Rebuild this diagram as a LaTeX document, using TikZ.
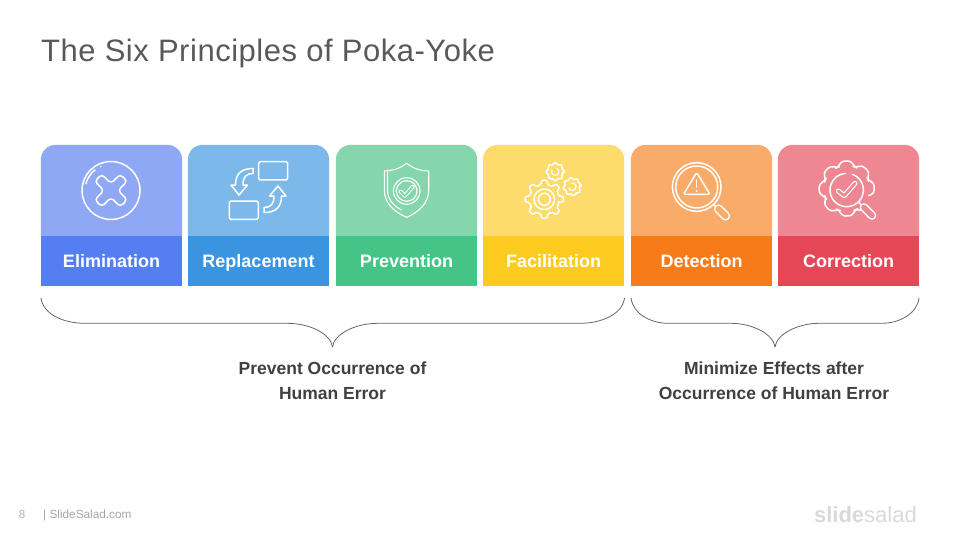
\documentclass[tikz,border=0pt]{standalone}
\usepackage{fontspec}
\setmainfont{Liberation Sans}
\usetikzlibrary{positioning}

\definecolor{elimtop}{HTML}{8FA8F5}
\definecolor{elimband}{HTML}{567EF3}
\definecolor{repltop}{HTML}{7DB8EA}
\definecolor{replband}{HTML}{3B94E0}
\definecolor{prevtop}{HTML}{85D6AC}
\definecolor{prevband}{HTML}{44C486}
\definecolor{factop}{HTML}{FEDB6D}
\definecolor{facband}{HTML}{FDCB20}
\definecolor{dettop}{HTML}{F9AB6A}
\definecolor{detband}{HTML}{F77C19}
\definecolor{cortop}{HTML}{EE8791}
\definecolor{corband}{HTML}{E54757}

% the light upper part of a card, sitting on its band node
\newcommand{\cardtop}[2]{\fill[#2] (#1.north west) [rounded corners=15pt] -- ([yshift=91pt]#1.north west) -- ([yshift=91pt]#1.north east) [sharp corners] -- (#1.north east) -- cycle;}
% cog outline: x, y, outer radius, root radius, teeth, turn
\newcommand{\cogline}[6]{\draw[icon,rounded corners=1.2pt,shift={(#1,#2)}] ({#6-0.3*360/#5}:#4pt) foreach \i in {1,...,#5} { -- ({#6+(\i-1.17)*360/#5}:#3pt) -- ({#6+(\i-0.83)*360/#5}:#3pt) -- ({#6+(\i-0.7)*360/#5}:#4pt) -- ({#6+(\i-0.3)*360/#5}:#4pt)} -- cycle;}

\begin{document}
\begin{tikzpicture}[x=1pt,y=-1pt,
	band_node/.style={rectangle,inner sep=0pt,minimum width=141pt,minimum height=50pt,text height=16.5pt,text depth=3.5pt,text=white,font=\fontsize{18}{20}\selectfont\bfseries},
	group_node/.style={align=center,inner sep=0pt,text=black!75,font=\fontsize{17.5}{25}\selectfont\bfseries},
	icon/.style={draw=white,line width=1.5pt,line join=round,line cap=round},
	brace/.style={draw=black!60,line width=0.8pt}]
	\useasboundingbox (0,0) rectangle (960,540);

	\node[anchor=west,inner sep=0pt,text=black!65,font=\fontsize{31}{36}\selectfont\addfontfeature{LetterSpace=1.7}] (title) at (41,53.5) {The Six Principles of Poka-Yoke};

	\node[band_node,fill=elimband] (elim) at (111.5,261) {Elimination};
	\node[band_node,fill=replband] (repl) at (258.5,261) {Replacement};
	\node[band_node,fill=prevband] (prev) at (406.5,261) {Prevention};
	\node[band_node,fill=facband] (fac) at (553.5,261) {Facilitation};
	\node[band_node,fill=detband] (det) at (701.5,261) {Detection};
	\node[band_node,fill=corband] (cor) at (848.5,261) {Correction};
	\cardtop{elim}{elimtop}
	\cardtop{repl}{repltop}
	\cardtop{prev}{prevtop}
	\cardtop{fac}{factop}
	\cardtop{det}{dettop}
	\cardtop{cor}{cortop}

	% elimination
	\draw[icon] (111,190.5) circle (29pt);
	\draw[icon,shift={(111,190.5)}] (165:26pt) arc[start angle=165,end angle=128,radius=26pt];
	\fill[white,shift={(111,190.5)}] (113:26pt) circle (0.8pt);
	\draw[icon,rounded corners=3.5pt,shift={(111,190.5)}] (0:7pt) -- (29.5:18.7pt) -- (60.5:18.7pt) -- (90:7pt) -- (119.5:18.7pt) -- (150.5:18.7pt) -- (180:7pt) -- (209.5:18.7pt) -- (240.5:18.7pt) -- (270:7pt) -- (299.5:18.7pt) -- (330.5:18.7pt) -- cycle;

	% replacement
	\draw[icon,rounded corners=1.5pt] (258.7,161.7) rectangle (287.7,180);
	\draw[icon,rounded corners=1.5pt] (229.3,201) rectangle (258.3,219.3);
	\draw[icon] (253,168.5) .. controls (241,168.5) and (235.5,174) .. (235.5,185) -- (231,185) -- (239,195) -- (247.5,185) -- (243,185) .. controls (243,177) and (246,173.5) .. (253,173.5) -- cycle;
	\draw[icon] (264,212.5) .. controls (276,212.5) and (281.5,207) .. (281.5,196) -- (286,196) -- (278,186) -- (269.5,196) -- (274,196) .. controls (274,204) and (271,207.5) .. (264,207.5) -- cycle;

	% prevention
	\draw[icon,line width=1.1pt] (406.7,163.3) .. controls (399,169) and (392,171) .. (384.3,171) -- (384.3,190) .. controls (384.3,203) and (394,212) .. (406.7,217.3) .. controls (419,212) and (428.7,203) .. (428.7,190) -- (428.7,171) .. controls (421,171) and (414,169) .. (406.7,163.3) -- cycle;
	\draw[icon,line width=1.1pt] (387.5,172.5) -- (387.5,190) .. controls (387.5,198) and (392,205) .. (401.5,210);
	\draw[icon,line width=1.1pt] (406.7,191) circle (13.3pt);
	\draw[icon,line width=1.1pt] (406.7,191) circle (10.3pt);
	\draw[icon,line width=1pt,double=prevtop,double distance=2pt] (400.7,191.7) -- (405,195.7) -- (412.7,186.7);

	% facilitation
	\cogline{544.3}{199.3}{19.3}{15}{8}{0}
	\draw[icon] (544.3,199.3) circle (10.3pt);
	\draw[icon] (544.3,199.3) circle (6pt);
	\cogline{555.3}{171.7}{9.3}{7.4}{8}{0}
	\draw[icon,line width=1.1pt,shift={(555.3,171.7)}] (60:3.8pt) arc[start angle=60,end angle=-200,radius=3.8pt];
	\cogline{572.3}{186.7}{9.3}{7.4}{8}{10}
	\draw[icon,line width=1.1pt,shift={(572.3,186.7)}] (100:3.8pt) arc[start angle=100,end angle=-160,radius=3.8pt];

	% detection
	\draw[icon] (696.7,187) circle (24.3pt);
	\draw[icon] (696.7,187) circle (21pt);
	\draw[icon,rounded corners=1.5pt] (696.7,172.5) -- (710,194.3) -- (683.5,194.3) -- cycle;
	\draw[icon] (696.7,180) -- (696.7,187);
	\fill[white] (696.7,191) circle (1pt);
	\draw[icon] (714,204.5) -- (717,207.5);
	\draw[icon,double=dettop,double distance=6.2pt] (718.5,209) -- (725.5,216);

	% correction
	\draw[icon,rounded corners=3.5pt,shift={(846.7,188.5)}] (-18:23pt) -- (-10:28pt) -- (12:28pt) -- (20:23pt) -- (27:23pt) -- (35:28pt) -- (57:28pt) -- (65:23pt) -- (72:23pt) -- (80:28pt) -- (102:28pt) -- (110:23pt) -- (117:23pt) -- (125:28pt) -- (147:28pt) -- (155:23pt) -- (162:23pt) -- (170:28pt) -- (192:28pt) -- (200:23pt) -- (207:23pt) -- (215:28pt) -- (237:28pt) -- (245:23pt) -- (252:23pt) -- (260:28pt) -- (282:28pt) -- (290:23pt) -- (297:23pt) -- (303:26pt);
	\draw[icon,shift={(846.7,190)}] (70:16.7pt) arc[start angle=70,end angle=-265,radius=16.7pt];
	\draw[icon,line width=1.2pt,double=cortop,double distance=2.6pt] (838.3,191) -- (844.3,195.7) -- (855,183.3);
	\draw[icon] (858.5,202) -- (861.5,205);
	\draw[icon,double=cortop,double distance=5.6pt] (864,207.5) -- (872,215.5);

	% braces under the cards
	\coordinate (l_start) at (41,298);
	\coordinate (l_tip) at (332.5,347);
	\coordinate (l_end) at (624.5,298);
	\coordinate (r_start) at (631,298);
	\coordinate (r_tip) at (775,347);
	\coordinate (r_end) at (919,298);
	\draw[brace] (l_start) .. controls (43,314) and (63,323.3) .. (85,323.3) -- (287,323.3) .. controls (310,323.3) and (331,334) .. (l_tip);
	\draw[brace] (l_tip) .. controls (334,334) and (355,323.3) .. (378,323.3) -- (580,323.3) .. controls (602,323.3) and (622.5,314) .. (l_end);
	\draw[brace] (r_start) .. controls (633,314) and (651,323.3) .. (668,323.3) -- (731,323.3) .. controls (752,323.3) and (773.5,334) .. (r_tip);
	\draw[brace] (r_tip) .. controls (776.5,334) and (798,323.3) .. (819,323.3) -- (882,323.3) .. controls (899,323.3) and (917,314) .. (r_end);

	\node[group_node] (prevent) at (332.5,381) {Prevent Occurrence of\\Human Error};
	\node[group_node] (minimize) at (774,381) {Minimize Effects after\\Occurrence of Human Error};

	% footer
	\node[inner sep=0pt,text=black!30,font=\fontsize{11.5}{14}\selectfont] (page) at (22,514.5) {8};
	\node[anchor=west,inner sep=0pt,text=black!35,font=\fontsize{11.8}{14}\selectfont] (site) at (43,515.5) {| SlideSalad.com};
	\node[anchor=east,inner sep=0pt,text=black!15,font=\fontsize{22}{26}\selectfont] (logo) at (917,515) {\textbf{slide}salad};
\end{tikzpicture}
\end{document}
